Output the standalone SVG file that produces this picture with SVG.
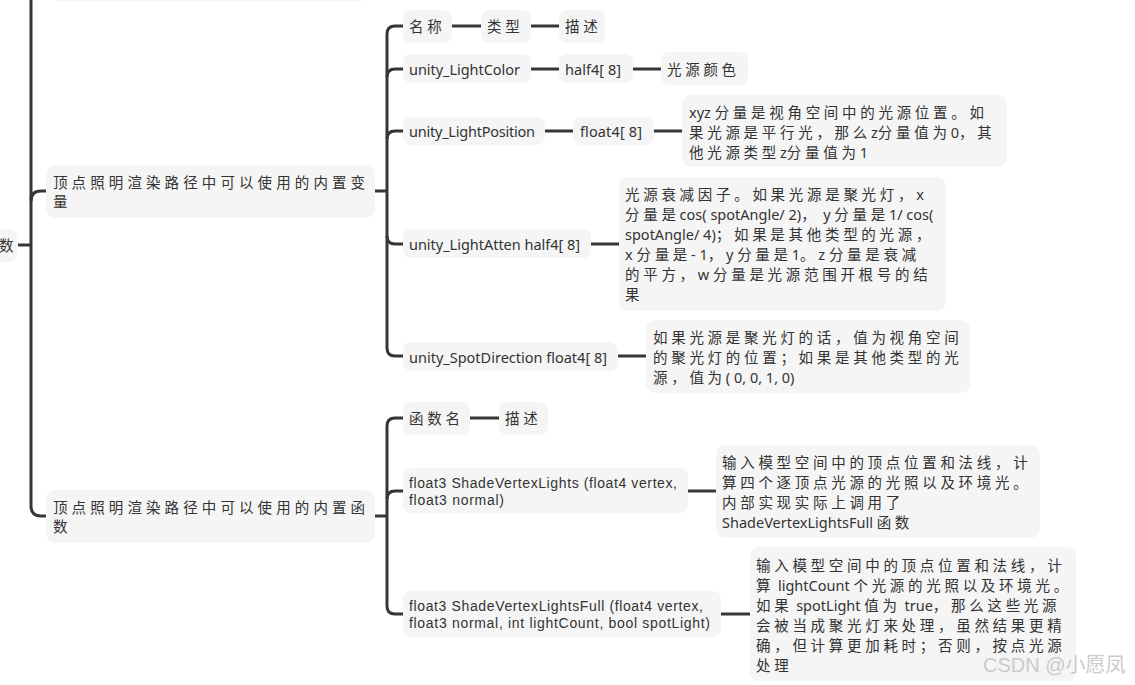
<svg xmlns="http://www.w3.org/2000/svg" width="1135" height="685" viewBox="0 0 1135 685">
<style>
.bg{fill:#ffffff}
.box{fill:#f5f5f5}
.ln{fill:none;stroke:#363636;stroke-width:3;stroke-linecap:butt}
.t{font-family:"Noto Sans","Noto Sans CJK SC",sans-serif;font-size:14.5px;fill:#333333;letter-spacing:3.7px;dominant-baseline:central}
.l{letter-spacing:0px}
.s{font-family:"Liberation Sans",sans-serif;font-size:14px;fill:#333333;dominant-baseline:central}
.wm{font-family:"Liberation Sans","Noto Sans CJK SC",sans-serif;font-size:20px;fill:#c4c4c4;opacity:0.85;dominant-baseline:central}
</style>
<rect class="bg" x="0" y="0" width="1135" height="685"/>

<g id="connectors">
  <path class="ln" d="M31,-5 V506 Q31,516 41,516 H46"/>
  <path class="ln" d="M31,201 Q31,191 41,191 H46"/>
  <path class="ln" d="M18,245 H31"/>
  <path class="ln" d="M375,191 H387"/>
  <path class="ln" d="M403,26 H395 Q387,26 387,34 V348 Q387,356 395,356 H403"/>
  <path class="ln" d="M387,77 Q387,69 395,69 H403"/>
  <path class="ln" d="M387,139 Q387,131 395,131 H403"/>
  <path class="ln" d="M387,236 Q387,244 395,244 H403"/>
  <path class="ln" d="M452,26 H481"/>
  <path class="ln" d="M531,26 H559"/>
  <path class="ln" d="M531,69 H559"/>
  <path class="ln" d="M633,69 H661"/>
  <path class="ln" d="M545,131 H573"/>
  <path class="ln" d="M654,131 H682"/>
  <path class="ln" d="M591,244 H619"/>
  <path class="ln" d="M618,356 H646"/>
  <path class="ln" d="M375,516 H387"/>
  <path class="ln" d="M403,418 H395 Q387,418 387,426 V606 Q387,614 395,614 H403"/>
  <path class="ln" d="M387,499 Q387,491 395,491 H403"/>
  <path class="ln" d="M470,418 H499"/>
  <path class="ln" d="M688,491 H716"/>
  <path class="ln" d="M721,614 H750"/>
</g>

<g id="node-top-cut">
  <rect class="box" x="50" y="-40" width="318" height="41" rx="8"/>
</g>

<g id="node-root">
  <rect class="box" x="-20" y="229" width="37" height="33" rx="8"/>
  <text class="t" x="-1" y="245">数</text>
</g>

<g id="node-vars">
  <rect class="box" x="46" y="165" width="329" height="53" rx="9"/>
  <text class="t" x="53" y="182" style="letter-spacing:4.1px">顶点照明渲染路径中可以使用的内置变</text>
  <text class="t" x="53" y="201">量</text>
</g>

<g id="node-name">
  <rect class="box" x="403" y="10" width="49" height="33" rx="8"/>
  <text class="t" x="409" y="26">名称</text>
</g>
<g id="node-type">
  <rect class="box" x="481" y="10" width="50" height="33" rx="8"/>
  <text class="t" x="487" y="26">类型</text>
</g>
<g id="node-desc">
  <rect class="box" x="559" y="10" width="46" height="33" rx="8"/>
  <text class="t" x="565" y="26">描述</text>
</g>

<g id="node-lightcolor">
  <rect class="box" x="403" y="54" width="128" height="29" rx="8"/>
  <text class="t l" x="409" y="69" textLength="111" lengthAdjust="spacing">unity_LightColor</text>
</g>
<g id="node-lightcolor-type">
  <rect class="box" x="559" y="54" width="74" height="29" rx="8"/>
  <text class="t l" x="565" y="69" textLength="56" lengthAdjust="spacing">half4[ 8]</text>
</g>
<g id="node-lightcolor-desc">
  <rect class="box" x="661" y="52" width="87" height="33" rx="8"/>
  <text class="t" x="667" y="69">光源颜色</text>
</g>

<g id="node-lightpos">
  <rect class="box" x="403" y="117" width="142" height="28" rx="8"/>
  <text class="t l" x="409" y="131" textLength="126" lengthAdjust="spacing">unity_LightPosition</text>
</g>
<g id="node-lightpos-type">
  <rect class="box" x="573" y="117" width="81" height="28" rx="8"/>
  <text class="t l" x="580" y="131" textLength="62" lengthAdjust="spacing">float4[ 8]</text>
</g>
<g id="node-lightpos-desc">
  <rect class="box" x="682" y="95" width="325" height="72" rx="9"/>
  <text class="t" x="689" y="111.5"><tspan class="l">xyz </tspan>分量是视角空间中的光源位置。如</text>
  <text class="t" x="689" y="131.5">果光源是平行光，那么<tspan class="l">z</tspan>分量值为<tspan class="l">0</tspan>，其</text>
  <text class="t" x="689" y="151.5">他光源类型<tspan class="l">z</tspan>分量值为<tspan class="l">1</tspan></text>
</g>

<g id="node-atten">
  <rect class="box" x="403" y="229" width="188" height="29" rx="8"/>
  <text class="t l" x="409" y="244" textLength="171" lengthAdjust="spacing">unity_LightAtten half4[ 8]</text>
</g>
<g id="node-atten-desc">
  <rect class="box" x="619" y="177" width="327" height="134" rx="9"/>
  <text class="t" x="625" y="194">光源衰减因子。如果光源是聚光灯，<tspan class="l">x</tspan></text>
  <text class="t" x="625" y="214">分量是<tspan class="l">cos( spotAngle/ 2)</tspan>，<tspan class="l"> y </tspan>分量是<tspan class="l">1/ cos(</tspan></text>
  <text class="t" x="625" y="234"><tspan class="l">spotAngle/ 4)</tspan>；如果是其他类型的光源，</text>
  <text class="t" x="625" y="254"><tspan class="l">x </tspan>分量是<tspan class="l">- 1</tspan>，<tspan class="l">y </tspan>分量是<tspan class="l">1</tspan>。<tspan class="l">z </tspan>分量是衰减</text>
  <text class="t" x="625" y="274">的平方，<tspan class="l">w </tspan>分量是光源范围开根号的结</text>
  <text class="t" x="625" y="294">果</text>
</g>

<g id="node-spotdir">
  <rect class="box" x="403" y="342" width="215" height="29" rx="8"/>
  <text class="t l" x="409" y="356.5" textLength="198" lengthAdjust="spacing">unity_SpotDirection float4[ 8]</text>
</g>
<g id="node-spotdir-desc">
  <rect class="box" x="646" y="320" width="324" height="73" rx="9"/>
  <text class="t" x="653" y="337">如果光源是聚光灯的话，值为视角空间</text>
  <text class="t" x="653" y="357">的聚光灯的位置；如果是其他类型的光</text>
  <text class="t" x="653" y="377">源，值为<tspan class="l">( 0, 0, 1, 0)</tspan></text>
</g>

<g id="node-funcs">
  <rect class="box" x="46" y="490" width="329" height="53" rx="9"/>
  <text class="t" x="53" y="507" style="letter-spacing:4.1px">顶点照明渲染路径中可以使用的内置函</text>
  <text class="t" x="53" y="526">数</text>
</g>

<g id="node-funcname">
  <rect class="box" x="403" y="402" width="67" height="33" rx="8"/>
  <text class="t" x="409" y="418">函数名</text>
</g>
<g id="node-funcdesc">
  <rect class="box" x="499" y="402" width="49" height="33" rx="8"/>
  <text class="t" x="505" y="418">描述</text>
</g>

<g id="node-svl">
  <rect class="box" x="403" y="468" width="285" height="45" rx="8"/>
  <text class="s" x="409" y="482.5" textLength="268" lengthAdjust="spacing">float3 ShadeVertexLights (float4 vertex,</text>
  <text class="s" x="409" y="500" textLength="95" lengthAdjust="spacing">float3 normal)</text>
</g>
<g id="node-svl-desc">
  <rect class="box" x="716" y="445" width="324" height="93" rx="9"/>
  <text class="t" x="722" y="462">输入模型空间中的顶点位置和法线，计</text>
  <text class="t" x="722" y="482">算四个逐顶点光源的光照以及环境光。</text>
  <text class="t" x="722" y="502">内部实现实际上调用了</text>
  <text class="t" x="722" y="522"><tspan class="l">ShadeVertexLightsFull </tspan>函数</text>
</g>

<g id="node-svlf">
  <rect class="box" x="403" y="591" width="318" height="46" rx="8"/>
  <text class="s" x="409" y="605.5" textLength="294" lengthAdjust="spacing">float3 ShadeVertexLightsFull (float4 vertex,</text>
  <text class="s" x="409" y="623" textLength="301" lengthAdjust="spacing">float3 normal, int lightCount, bool spotLight)</text>
</g>
<g id="node-svlf-desc">
  <rect class="box" x="750" y="547" width="326" height="134" rx="9"/>
  <text class="t" x="756" y="564.5">输入模型空间中的顶点位置和法线，计</text>
  <text class="t" x="756" y="584.5">算<tspan class="l"> lightCount </tspan>个光源的光照以及环境光。</text>
  <text class="t" x="756" y="604.5">如果<tspan class="l"> spotLight </tspan>值为<tspan class="l"> true</tspan>，那么这些光源</text>
  <text class="t" x="756" y="624.5">会被当成聚光灯来处理，虽然结果更精</text>
  <text class="t" x="756" y="644.5">确，但计算更加耗时；否则，按点光源</text>
  <text class="t" x="756" y="664.5">处理</text>
</g>

<g id="watermark">
  <text class="wm" x="983" y="665">CSDN @小愿凤</text>
</g>
</svg>
